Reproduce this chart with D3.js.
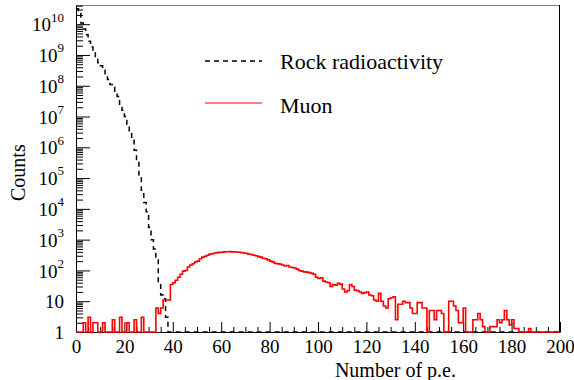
<!DOCTYPE html>
<meta charset="utf-8">
<style>
  body { margin: 0; background: #fff; }
  svg { display: block; font-family: "Liberation Serif", "Times New Roman", serif; }
</style>
<div id="chart"></div>
<script src="https://cdn.jsdelivr.net/npm/d3@7"></script>
<script>

// counts per 1 p.e. bin, bins 0..199
let rock_counts = [3.2e10, 2.5e10, 1.1e10, 7e9, 4.5e9, 2.8e9, 1.8e9, 1.25e9, 8e8, 5.6e8,
  4.5e8, 3.2e8, 2.2e8, 1.6e8, 1.1e8, 9e7, 6.3e7, 4.5e7, 2.5e7, 1.6e7,
  1e7, 5.6e6, 3.2e6, 1.8e6, 8e5, 3.2e5, 1.25e5, 4e4, 1.6e4, 8e3,
  2.5e3, 1e3, 500, 250, 40, 16, 12, 3];
while (rock_counts.length < 200) rock_counts.push(0);

let muon_counts = [1, 1, 1, 2, 1, 3, 1, 2, 2, 1,
  1, 2, 1, 1, 1, 2.5, 1, 1, 3, 1,
  1, 2, 1, 1, 2.5, 1, 1, 3, 1, 1,
  1, 1, 1, 6, 4, 6, 11, 11, 11, 35,
  40, 48, 60, 75, 95, 100, 130, 150, 165, 190,
  200, 240, 270, 290, 310, 340, 350, 370, 380, 385,
  390, 400, 405, 410, 400, 405, 395, 390, 380, 370,
  360, 340, 330, 310, 300, 280, 270, 250, 240, 220,
  200, 190, 170, 165, 160, 150, 140, 145, 130, 125,
  120, 110, 100, 95, 90, 88, 85, 80, 75, 60,
  55, 58, 45, 42, 40, 30, 35, 33, 38, 36,
  25, 20, 22, 35, 30, 23, 22, 20, 18, 19,
  20, 16, 15, 11, 10, 18, 10, 7, 6, 12,
  13, 14, 2.5, 8, 8, 10, 9, 9, 6, 4,
  4, 9, 9, 6, 6, 1, 5, 5, 2.5, 5,
  5, 4, 1, 1, 10, 10, 7, 5, 2, 2,
  6, 1, 1, 1, 2.5, 2.5, 4, 2.5, 1.5, 1,
  1, 1.5, 1.5, 1.5, 2.5, 2, 2.5, 5, 2.5, 1.7,
  2.5, 1.3, 1.3, 1, 1, 1, 1, 1.3, 1, 1,
  1, 1, 1, 1, 1, 1, 1, 1, 1, 1];

let x_ticks = [0, 20, 40, 60, 80, 100, 120, 140, 160, 180, 200];
let y_exponents = [0, 1, 2, 3, 4, 5, 6, 7, 8, 9, 10];
let legend_labels = ["Rock radioactivity", "Muon"];

let width = 574, height = 380;
let frame = {left: 76, right: 560, top: 5, bottom: 332};

let svg = d3.select("#chart").append("svg")
  .attr("width", width)
  .attr("height", height);

let x = d3.scaleLinear().domain([0, 200]).range([frame.left, frame.right]);
let y = d3.scaleLog().domain([1, 4.2e10]).range([frame.bottom, frame.top]);

// frame
svg.append("line")
  .attr("x1", frame.left).attr("x2", frame.right)
  .attr("y1", frame.top + 0.5).attr("y2", frame.top + 0.5)
  .attr("stroke", "#808080");
svg.append("line")
  .attr("x1", frame.right - 0.5).attr("x2", frame.right - 0.5)
  .attr("y1", frame.top).attr("y2", frame.bottom)
  .attr("stroke", "#000");

// minor y ticks
let y_minor = [];
for (let e = 0; e <= 10; e++) {
  for (let k = 2; k <= 9; k++) {
    if (k * Math.pow(10, e) <= 4.2e10) y_minor.push(k * Math.pow(10, e));
  }
}
svg.append("g")
  .attr("transform", "translate(" + frame.left + ",0)")
  .call(d3.axisLeft(y).tickValues(y_minor).tickSize(-7).tickFormat(""))
  .call(g => g.select(".domain").remove());

let y_axis = svg.append("g")
  .attr("transform", "translate(" + frame.left + ",0)")
  .call(d3.axisLeft(y).tickValues(y_exponents.map(e => Math.pow(10, e)))
    .tickSize(-14).tickPadding(12).tickSizeOuter(0).tickFormat(""));
y_axis.selectAll(".tick text").each(function(d, i) {
  let e = y_exponents[i];
  let t = d3.select(this).attr("font-size", 19).attr("font-family", "Liberation Serif").attr("dy", "0.35em");
  if (e === 0) t.text("1");
  else if (e === 1) t.text("10");
  else {
    t.append("tspan").text("10");
    t.append("tspan").attr("font-size", 13).attr("dy", "-0.75em").text(e);
  }
});

// minor x ticks
let x_minor = d3.range(0, 201, 5).filter(v => v % 20 !== 0);
svg.append("g")
  .attr("transform", "translate(0," + frame.bottom + ")")
  .call(d3.axisBottom(x).tickValues(x_minor).tickSize(-5).tickFormat(""))
  .call(g => g.select(".domain").remove());

let x_axis = svg.append("g")
  .attr("transform", "translate(0," + frame.bottom + ")")
  .call(d3.axisBottom(x).tickValues(x_ticks).tickSize(-10).tickPadding(8).tickSizeOuter(0));
x_axis.selectAll(".tick text")
  .attr("font-size", 19)
  .attr("font-family", "Liberation Serif");

svg.selectAll(".tick line").attr("stroke", "#000");
svg.selectAll(".domain").attr("stroke", "#000");

// axis titles
svg.append("text")
  .attr("x", 456).attr("y", 377)
  .attr("text-anchor", "end")
  .attr("font-size", 20)
  .text("Number of p.e.");
svg.append("text")
  .attr("transform", "translate(25,201) rotate(-90)")
  .attr("font-size", 20)
  .text("Counts");

// histograms
function step_path(counts) {
  let clamp = v => y(Math.min(Math.max(v, 1), 4.2e10));
  let p = d3.path();
  counts.forEach((v, i) => {
    if (i === 0) p.moveTo(x(i), clamp(v));
    else p.lineTo(x(i), clamp(v));
    p.lineTo(x(i + 1), clamp(v));
  });
  return p.toString();
}

svg.append("path")
  .attr("d", step_path(rock_counts))
  .attr("fill", "none")
  .attr("stroke", "#000")
  .attr("stroke-width", 1.5)
  .attr("stroke-dasharray", "5,4");

svg.append("path")
  .attr("d", step_path(muon_counts))
  .attr("fill", "none")
  .attr("stroke", "#ff0000")
  .attr("stroke-width", 1.6);

// legend
let legend = svg.append("g");
legend.append("line")
  .attr("x1", 205).attr("x2", 262).attr("y1", 61).attr("y2", 61)
  .attr("stroke", "#000").attr("stroke-width", 1.5).attr("stroke-dasharray", "5,4");
legend.append("line")
  .attr("x1", 205).attr("x2", 262).attr("y1", 103).attr("y2", 103)
  .attr("stroke", "#ff0000").attr("stroke-width", 1.2);
legend.selectAll("text")
  .data(legend_labels)
  .enter().append("text")
    .attr("x", 280)
    .attr("y", (d, i) => 69 + i * 44)
    .attr("font-size", 22)
    .text(d => d);

</script>
